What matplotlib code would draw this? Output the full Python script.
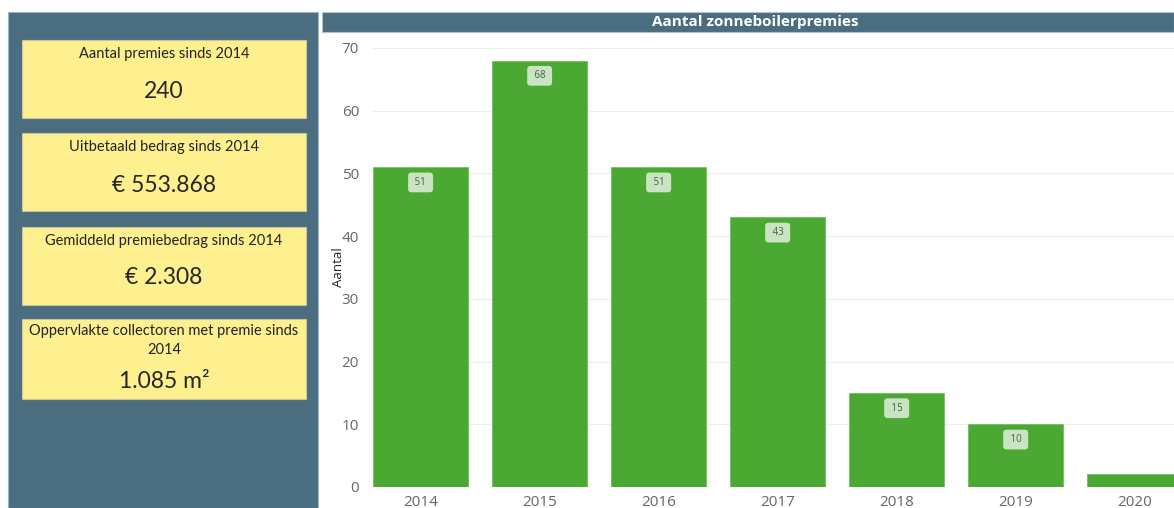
import matplotlib.pyplot as plt
from matplotlib.patches import Rectangle

years = ["2014", "2015", "2016", "2017", "2018", "2019", "2020"]
aantal = [51, 68, 51, 43, 15, 10, 2]

card_titles = ["Aantal premies sinds 2014",
               "Uitbetaald bedrag sinds 2014",
               "Gemiddeld premiebedrag sinds 2014",
               "Oppervlakte collectoren met premie sinds\n2014"]
card_values = ["240", "€ 553.868", "€ 2.308", "1.085 m²"]

panel = "#4a6e80"
bar_green = "#4ba832"
card_fill = "#fff08f"

W, H = 1174, 508
fig = plt.figure(figsize=(W / 100, H / 100), dpi=100)


def fx(px):
    return px / W


def fy(py):
    return 1 - py / H


# left panel with the KPI cards
fig.patches.append(Rectangle((fx(8), 0), fx(310), fy(12), transform=fig.transFigure,
                             facecolor=panel, edgecolor="#9fb3bd", lw=0.8))
card_tops = [40, 133, 227, 319]
card_h = [78, 78, 78, 80]
title_dy = [7, 7, 7, 5]
value_dy = [51, 52, 50, 62]
for top, h, tdy, vdy, t, v in zip(card_tops, card_h, title_dy, value_dy, card_titles, card_values):
    fig.patches.append(Rectangle((fx(22), fy(top + h)), fx(284), h / H, transform=fig.transFigure,
                                 facecolor=card_fill, edgecolor="#c9c29a", lw=0.8))
    fig.text(fx(164), fy(top + tdy), t, ha="center", va="top", fontsize=10.5,
             color="#222222", family="Lato", linespacing=1.45)
    fig.text(fx(164), fy(top + vdy), v, ha="center", va="center", fontsize=16.5,
             color="#252525", family="Lato")

# chart title bar
fig.patches.append(Rectangle((fx(322), fy(32)), fx(W - 322), 20 / H, transform=fig.transFigure,
                             facecolor=panel, edgecolor="#b5c4cc", lw=0.8))
fig.text(fx(755), fy(22), "Aantal zonneboilerpremies", ha="center", va="center",
         fontsize=11, color="white", fontweight="bold", family="Open Sans")

ax = fig.add_axes([fx(373), fy(487), fx(W - 373), (487 - 48) / H])
x = range(len(years))
bars = ax.bar(x, aantal, width=0.8, color=bar_green, edgecolor="#6cc35a", lw=0.6, zorder=2)
ax.set_xlim(-0.4, 6.33)
ax.set_ylim(0, 70)
ax.set_yticks(range(0, 71, 10))
ax.set_xticks(list(x))
ax.set_xticklabels(years)
ax.yaxis.grid(True, color="#eeeeee", lw=0.8, zorder=0)
ax.set_axisbelow(True)
for s in ax.spines.values():
    s.set_visible(False)
ax.tick_params(length=0, labelsize=11, colors="#666666")
ax.tick_params(axis="x", pad=6)
ax.tick_params(axis="y", pad=10)
for lbl in ax.get_xticklabels() + ax.get_yticklabels():
    lbl.set_family("Open Sans")
ax.set_ylabel("Aantal", fontsize=9.5, color="#222222", family="Open Sans")
ax.yaxis.set_label_coords(-0.035, 0.5)

for xi, v in zip(x, aantal):
    if v < 5:
        continue
    ax.annotate(f" {v} ", (xi, v), xytext=(0, -11), textcoords="offset points",
                ha="center", va="center", fontsize=7, color="#555555", family="Open Sans",
                bbox=dict(boxstyle="round,pad=0.45,rounding_size=0.35", fc="white",
                          ec="none", alpha=0.7))

fig.savefig("out.png", dpi=100)
